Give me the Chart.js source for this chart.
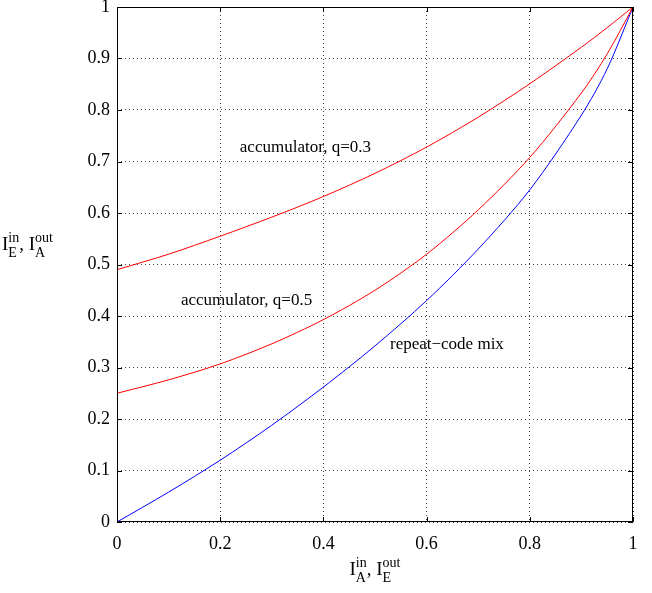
<!DOCTYPE html>
<html>
<head>
<meta charset="utf-8">
<script src="https://cdn.jsdelivr.net/npm/chart.js@4.4.1/dist/chart.umd.min.js"></script>
<style>
  html, body { margin: 0; padding: 0; background: #fff; }
</style>
</head>
<body>
<canvas id="myChart" width="652" height="593"></canvas>
<script>
// values
const xs        = [0, 0.1, 0.2, 0.3, 0.4, 0.5, 0.6, 0.7, 0.8, 0.9, 0.95, 1];
const accQ03    = [0.49, 0.52, 0.555, 0.592, 0.632, 0.677, 0.728, 0.786, 0.851, 0.922, 0.96, 1];
const accQ05    = [0.25, 0.276, 0.307, 0.346, 0.393, 0.45, 0.52, 0.606, 0.708, 0.833, 0.909, 1];
const repeatMix = [0, 0.058, 0.12, 0.188, 0.262, 0.342, 0.43, 0.53, 0.645, 0.79, 0.88, 1];
const xTicks = [0, 0.2, 0.4, 0.6, 0.8, 1];
const yTicks = [0, 0.1, 0.2, 0.3, 0.4, 0.5, 0.6, 0.7, 0.8, 0.9, 1];

const serif = "'Liberation Serif', 'DejaVu Serif', serif";

function pts(ys) {
    return xs.map((x, i) => ({x: x, y: ys[i]}));
}

// text with stacked sup/sub, parts = [[text, 'n'|'sup'|'sub'], ...]
function richText(ctx, parts, x, y, align) {
    const big = '19px ' + serif, small = '14px ' + serif;
    parts.forEach(p => {
        ctx.font = p[1] === 'n' ? big : small;
        p.w = ctx.measureText(p[0]).width;
    });
    let cx = 0;
    for (let i = 0; i < parts.length; i++) {
        const p = parts[i];
        if (p[1] === 'sub' && parts[i - 1] && parts[i - 1][1] === 'sup') {
            p.off = parts[i - 1].off;
            cx = Math.max(p.off + parts[i - 1].w, p.off + p.w);
        } else {
            p.off = cx;
            if (!(p[1] === 'sup' && parts[i + 1] && parts[i + 1][1] === 'sub')) cx += p.w;
        }
    }
    const x0 = align === 'center' ? x - cx / 2 : x;
    ctx.textAlign = 'left';
    ctx.textBaseline = 'alphabetic';
    ctx.fillStyle = '#000';
    parts.forEach(p => {
        ctx.font = p[1] === 'n' ? big : small;
        const dy = p[1] === 'sup' ? -8 : (p[1] === 'sub' ? 7 : 0);
        ctx.fillText(p[0], x0 + p.off, y + dy);
    });
}

const frame = {
    id: 'frame',
    afterDatasetsDraw(chart) {
        const {ctx, chartArea: a, scales: {x, y}} = chart;
        ctx.save();
        ctx.strokeStyle = '#000';
        ctx.lineWidth = 1;
        ctx.strokeRect(a.left + 0.5, a.top + 0.5, a.width - 1, a.height - 1);
        ctx.beginPath();
        xTicks.forEach(v => {
            const px = Math.round(x.getPixelForValue(v)) + 0.5;
            ctx.moveTo(px, a.bottom); ctx.lineTo(px, a.bottom - 5);
            ctx.moveTo(px, a.top); ctx.lineTo(px, a.top + 5);
        });
        yTicks.forEach(v => {
            const py = Math.round(y.getPixelForValue(v)) + 0.5;
            ctx.moveTo(a.left, py); ctx.lineTo(a.left + 5, py);
            ctx.moveTo(a.right, py); ctx.lineTo(a.right - 5, py);
        });
        ctx.stroke();

        // curve labels
        ctx.font = '17px ' + serif;
        ctx.fillStyle = '#000';
        ctx.textAlign = 'left';
        ctx.textBaseline = 'middle';
        ctx.fillText('accumulator, q=0.3', x.getPixelForValue(0.238), y.getPixelForValue(0.728));
        ctx.fillText('accumulator, q=0.5', x.getPixelForValue(0.124), y.getPixelForValue(0.431));
        ctx.fillText('repeat\u2212code mix', x.getPixelForValue(0.529), y.getPixelForValue(0.344));

        // axis titles
        richText(ctx, [['I', 'n'], ['in', 'sup'], ['A', 'sub'], [', I', 'n'], ['out', 'sup'], ['E', 'sub']],
            (a.left + a.right) / 2, 575, 'center');
        richText(ctx, [['I', 'n'], ['in', 'sup'], ['E', 'sub'], [', I', 'n'], ['out', 'sup'], ['A', 'sub']],
            2, 250, 'left');
        ctx.restore();
    }
};

const ctx = document.getElementById('myChart');

new Chart(ctx, {
    type: 'line',
    data: {
        datasets: [
            {label: 'accumulator, q=0.3', data: pts(accQ03), borderColor: '#ff0000'},
            {label: 'accumulator, q=0.5', data: pts(accQ05), borderColor: '#ff0000'},
            {label: 'repeat-code mix', data: pts(repeatMix), borderColor: '#0000ff'}
        ]
    },
    options: {
        responsive: false,
        animation: false,
        elements: {
            point: {radius: 0},
            line: {borderWidth: 1, tension: 0.3}
        },
        layout: {
            padding: {top: 7, right: 19, left: 0, bottom: 0}
        },
        plugins: {
            legend: {display: false},
            tooltip: {enabled: false}
        },
        scales: {
            x: {
                type: 'linear',
                min: 0,
                max: 1,
                afterFit: s => { s.height = 71; s.paddingLeft = 0; s.paddingRight = 0; },
                afterBuildTicks: s => { s.ticks = xTicks.map(v => ({value: v})); },
                grid: {color: '#444', drawTicks: false, lineWidth: 1},
                border: {display: false, dash: [1, 3]},
                ticks: {
                    padding: 11,
                    color: '#000',
                    font: {family: serif, size: 18},
                    callback: v => String(+v.toFixed(1))
                }
            },
            y: {
                type: 'linear',
                min: 0,
                max: 1,
                afterFit: s => { s.width = 117; s.paddingTop = 0; s.paddingBottom = 0; },
                afterBuildTicks: s => { s.ticks = yTicks.map(v => ({value: v})); },
                grid: {color: '#444', drawTicks: false, lineWidth: 1},
                border: {display: false, dash: [1, 3]},
                ticks: {
                    padding: 7,
                    color: '#000',
                    font: {family: serif, size: 18},
                    callback: v => String(+v.toFixed(1))
                }
            }
        }
    },
    plugins: [frame]
});
</script>
</body>
</html>
